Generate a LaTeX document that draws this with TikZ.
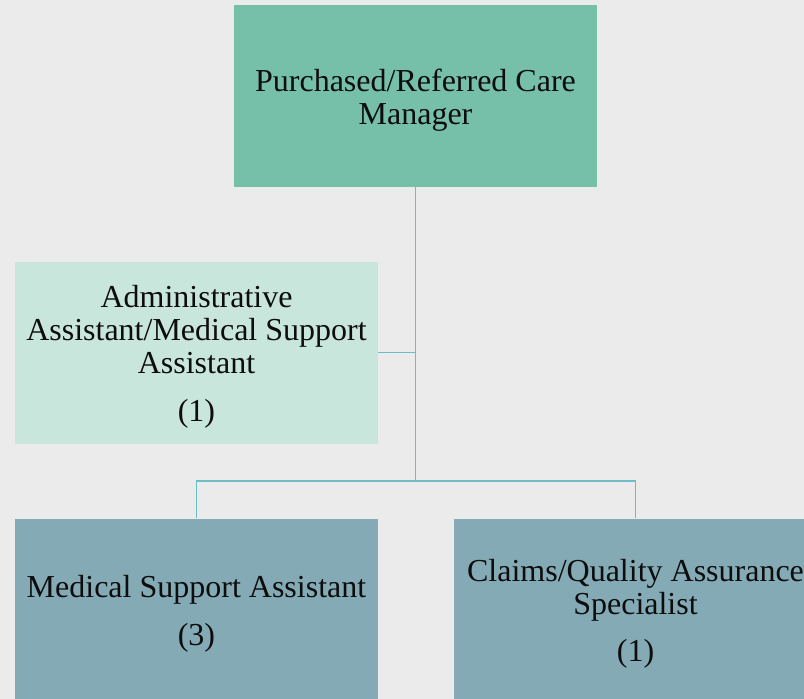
\documentclass[tikz,border=0pt]{standalone}
\usepackage{fontspec}
\setmainfont{Liberation Serif}
\usetikzlibrary{positioning}
\definecolor{mgrgreen}{HTML}{76BFA9}
\definecolor{admmint}{HTML}{C9E6DC}
\definecolor{staffblue}{HTML}{83AAB5}
\definecolor{linkteal}{HTML}{6BBDC8}
\definecolor{paper}{HTML}{EBEBEB}

\begin{document}
\begin{tikzpicture}[x=0.75pt,y=-0.75pt,
  box/.style={rectangle, minimum width=272.25pt, minimum height=136.5pt, inner sep=0pt},
  lbl/.style={align=center, inner sep=0pt, yshift=-3.2pt, text=black!95,
    font=\fontsize{24}{24.75}\selectfont},
  link/.style={draw=linkteal, line width=1.2pt}]
			\fill[paper] (0,0) rectangle (804,699);
			\clip (0,0) rectangle (804,699);
			\node[box, fill=mgrgreen, label={[lbl]center:{Purchased/Referred Care\\Manager}}] (mgr) at (415.5,96) {};
			\node[box, fill=admmint, label={[lbl]center:{Administrative\\Assistant/Medical Support\\Assistant\\[11pt](1)}}] (adm) at (196.5,352.5) {};
			\node[box, fill=staffblue, label={[lbl]center:{Medical Support Assistant\\[11pt](3)}}] (msa) at (196.5,609.5) {};
			\node[box, fill=staffblue, label={[lbl]center:{Claims/Quality Assurance\\Specialist\\[11pt](1)}}] (cqa) at (635.5,609.5) {};
			\coordinate (bus) at (415.5,481);
			\path[link]
			(mgr.south) -- (bus)
			(adm.east) -- (adm.east -| mgr.south)
			(msa.north) |- (bus) -| (cqa.north);
		\end{tikzpicture}
\end{document}
